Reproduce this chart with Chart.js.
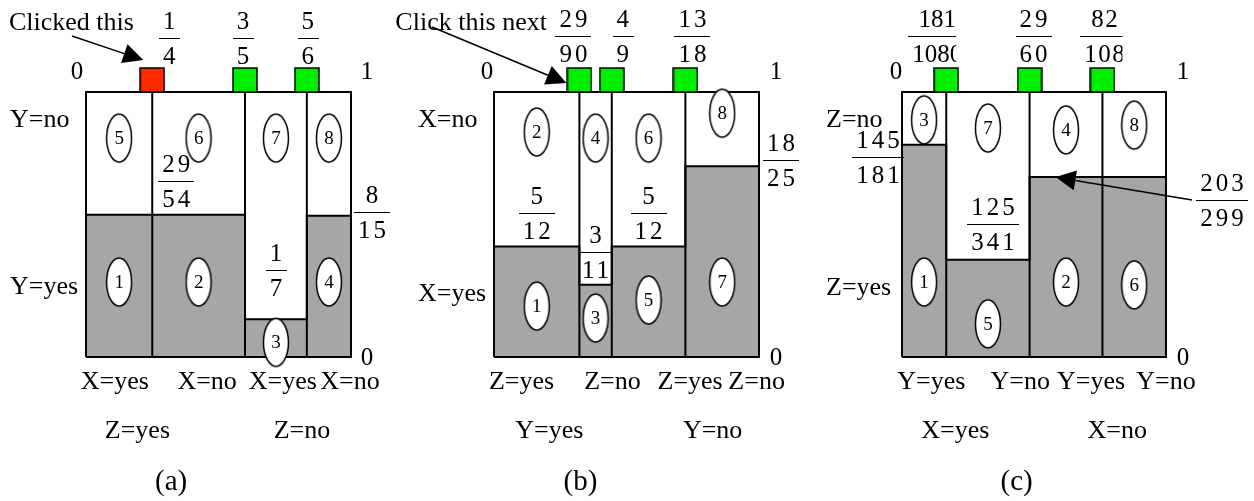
<!DOCTYPE html>
<html>
<head>
<meta charset="utf-8">
<title>Cell probability diagrams</title>
<script src="https://cdn.jsdelivr.net/npm/chart.js@4.4.0/dist/chart.umd.min.js"></script>
<style>
  html, body { margin: 0; padding: 0; background: #fff; }
  #wrap { position: relative; width: 1254px; height: 501px; overflow: hidden; }
  #wrap canvas { position: absolute; top: 0; }
</style>
</head>
<body>
<div id="wrap">
  <canvas id="panelA" width="420" height="501" style="left:0px"></canvas>
  <canvas id="panelB" width="440" height="501" style="left:370px"></canvas>
  <canvas id="panelC" width="454" height="501" style="left:800px"></canvas>
</div>
<script>
// Panel (a): split positions along the top and the grey (yes) share per column
const cutNumA = [1, 3, 5];
const cutDenA = [4, 5, 6];
const topNumA = [29, 29, 1, 8];
const topDenA = [54, 54, 7, 15];
const upperCellsA = [5, 6, 7, 8];
const lowerCellsA = [1, 2, 3, 4];
const colNamesA = ['X=yes', 'X=no', 'X=yes', 'X=no'];
const groupNamesA = ['Z=yes', 'Z=no'];
const rowNamesA = ['Y=no', 'Y=yes'];

// Panel (b)
const cutNumB = [29, 4, 13];
const cutDenB = [90, 9, 18];
const topNumB = [5, 3, 5, 18];
const topDenB = [12, 11, 12, 25];
const upperCellsB = [2, 4, 6, 8];
const lowerCellsB = [1, 3, 5, 7];
const colNamesB = ['Z=yes', 'Z=no', 'Z=yes', 'Z=no'];
const groupNamesB = ['Y=yes', 'Y=no'];
const rowNamesB = ['X=no', 'X=yes'];

// Panel (c)
const cutNumC = [181, 29, 82];
const cutDenC = [1080, 60, 108];
const topNumC = [145, 125, 203, 203];
const topDenC = [181, 341, 299, 299];
const upperCellsC = [3, 7, 4, 8];
const lowerCellsC = [1, 5, 2, 6];
const colNamesC = ['Y=yes', 'Y=no', 'Y=yes', 'Y=no'];
const groupNamesC = ['X=yes', 'X=no'];
const rowNamesC = ['Z=no', 'Z=yes'];

const SERIF = '"Liberation Serif", "Times New Roman", serif';
const GREY = '#a6a6a6';

// point images: marker square sits above its point, oval is centred on it
function squareImg(color) {
  const c = document.createElement('canvas');
  c.width = 26; c.height = 50;
  const g = c.getContext('2d');
  g.fillStyle = color;
  g.fillRect(1, 1, 24, 24);
  g.strokeStyle = '#000';
  g.lineWidth = 1.5;
  g.strokeRect(1, 1, 24, 24);
  return c;
}
function ovalImg() {
  const c = document.createElement('canvas');
  c.width = 28; c.height = 52;
  const g = c.getContext('2d');
  g.beginPath();
  g.ellipse(14, 26, 12.5, 24, 0, 0, Math.PI * 2);
  g.fillStyle = '#fff';
  g.fill();
  g.lineWidth = 1.5;
  g.strokeStyle = '#000';
  g.stroke();
  return c;
}
const RED_SQ = squareImg('#ff2a00');
const GREEN_SQ = squareImg('#00ee00');
const OVAL = ovalImg();

function word(ctx, s, x, y, align, size) {
  ctx.font = (size || 26) + 'px ' + SERIF;
  ctx.textAlign = align;
  ctx.textBaseline = 'alphabetic';
  ctx.fillText(s, x, y);
}

// stacked fraction centred on cx with its bar at lineY; clipW cuts the text off on the right
function fraction(ctx, num, den, cx, lineY, spacing, clipW) {
  const sp = spacing == null ? 3 : spacing;
  ctx.save();
  if (clipW) {
    ctx.beginPath();
    ctx.rect(cx - 200, lineY - 40, 200 + clipW, 80);
    ctx.clip();
  }
  ctx.font = '25px ' + SERIF;
  ctx.letterSpacing = sp + 'px';
  ctx.textAlign = 'left';
  ctx.textBaseline = 'alphabetic';
  const n = String(num), m = String(den);
  const wn = ctx.measureText(n).width - sp;
  const wm = ctx.measureText(m).width - sp;
  ctx.fillText(n, cx - wn / 2, lineY - 9);
  ctx.fillText(m, cx - wm / 2, lineY + 26);
  ctx.letterSpacing = '0px';
  const w = Math.max(wn, wm) + 8;
  ctx.fillRect(Math.round(cx - w / 2), Math.round(lineY), Math.round(w), 1);
  ctx.restore();
}

function arrow(ctx, x0, y0, x1, y1) {
  const a = Math.atan2(y1 - y0, x1 - x0);
  const bx = x1 - 20 * Math.cos(a), by = y1 - 20 * Math.sin(a);
  ctx.lineWidth = 1.5;
  ctx.beginPath();
  ctx.moveTo(x0, y0);
  ctx.lineTo(bx, by);
  ctx.stroke();
  ctx.beginPath();
  ctx.moveTo(x1, y1);
  ctx.lineTo(bx + 10 * Math.sin(a), by - 10 * Math.cos(a));
  ctx.lineTo(bx - 10 * Math.sin(a), by + 10 * Math.cos(a));
  ctx.closePath();
  ctx.fill();
}

function buildPanel(id, d, lay) {
  const cuts = d.cutNum.map((n, i) => n / d.cutDen[i]);
  const edges = [0].concat(cuts, [1]);
  const tops = d.topNum.map((n, i) => n / d.topDen[i]);
  const mids = tops.map((t, i) => (edges[i] + edges[i + 1]) / 2);
  const tags = d.upperCells.concat(d.lowerCells);

  // grey area as a stepped line filled down to zero
  const steps = tops.map((t, i) => ({ x: edges[i], y: t }));
  steps.push({ x: 1, y: tops[tops.length - 1] });

  const line = { showLine: true, pointRadius: 0, borderColor: '#000', borderWidth: 2, clip: false, fill: false, borderJoinStyle: 'miter' };

  const datasets = [
    {
      data: mids.map((m, i) => ({ x: m, y: lay.upperY[i] })).concat(mids.map((m, i) => ({ x: m, y: lay.lowerY[i] }))),
      pointStyle: OVAL, pointRadius: 6, showLine: false, clip: false
    },
    {
      data: cuts.map(c => ({ x: c, y: 1 })),
      pointStyle: ctx => (ctx.dataIndex === lay.clicked ? RED_SQ : GREEN_SQ),
      pointRadius: 6, showLine: false, clip: false
    },
    Object.assign({}, line, { data: [{ x: 0, y: 0 }, { x: 0, y: 1 }, { x: 1, y: 1 }, { x: 1, y: 0 }, { x: 0, y: 0 }] })
  ].concat(
    cuts.map(c => Object.assign({}, line, { data: [{ x: c, y: 0 }, { x: c, y: 1 }] })),
    [Object.assign({}, line, { data: steps, stepped: true, fill: 'origin', backgroundColor: GREY })]
  );

  new Chart(document.getElementById(id), {
    type: 'scatter',
    data: { datasets },
    options: {
      responsive: false,
      animation: false,
      events: [],
      layout: { padding: { left: lay.padL, right: lay.padR, top: 92, bottom: 144 } },
      scales: {
        x: { type: 'linear', min: 0, max: 1, display: false },
        y: { type: 'linear', min: 0, max: 1, display: false }
      },
      plugins: { legend: { display: false }, tooltip: { enabled: false } }
    },
    plugins: [{
      id: 'panelText',
      afterDatasetsDraw(chart) {
        const ctx = chart.ctx;
        ctx.save();
        ctx.fillStyle = '#000';
        ctx.font = '19px ' + SERIF;
        ctx.textAlign = 'center';
        ctx.textBaseline = 'middle';
        chart.getDatasetMeta(0).data.forEach((pt, j) => ctx.fillText(String(tags[j]), pt.x, pt.y + 1));
        ctx.restore();
      },
      afterDraw(chart) {
        const ctx = chart.ctx, ca = chart.chartArea;
        const xs = chart.scales.x, ys = chart.scales.y;
        ctx.save();
        ctx.fillStyle = '#000';
        ctx.strokeStyle = '#000';

        // ends of the split axis
        word(ctx, '0', ca.left + lay.zeroDx, ca.top - 13, 'center', 25);
        word(ctx, '1', ca.right + lay.oneDx, ca.top - 13, 'center', 25);
        word(ctx, '0', ca.right + lay.oneDx, ca.bottom + 8, 'center', 25);

        // split fractions above the markers
        cuts.forEach((c, i) => fraction(ctx, d.cutNum[i], d.cutDen[i],
          xs.getPixelForValue(c) + lay.cutDx[i], lay.cutLineY,
          lay.cutSpacing ? lay.cutSpacing[i] : 3, lay.cutClip ? lay.cutClip[i] : 0));

        // grey share fractions
        lay.topLabels.forEach(t => {
          const yTop = ys.getPixelForValue(tops[t.i]);
          let cx;
          if (t.at === 'center') cx = xs.getPixelForValue(mids[t.i]) + t.dx;
          else if (t.at === 'edge') cx = xs.getPixelForValue(edges[t.i]) + t.dx;
          else if (t.at === 'right') cx = ca.right + t.dx;
          else cx = ca.left + t.dx;
          fraction(ctx, d.topNum[t.i], d.topDen[t.i], cx, yTop + t.dy);
          if (t.arrow) arrow(ctx, cx - 30, yTop + t.dy, xs.getPixelForValue(edges[t.i]) + 26, yTop);
        });

        // row, column and group names
        word(ctx, d.rowNames[0], ca.left - 76, lay.rowY[0], 'left');
        word(ctx, d.rowNames[1], ca.left - 76, lay.rowY[1], 'left');
        d.colNames.forEach((s, i) => word(ctx, s, xs.getPixelForValue(lay.colX[i]), 389, 'center'));
        d.groupNames.forEach((s, i) => word(ctx, s, xs.getPixelForValue(lay.groupX[i]), 438, 'center'));
        word(ctx, lay.caption, xs.getPixelForValue(lay.captionX), 490, 'center', 29);

        // pointer note
        if (lay.note) {
          const n = lay.note;
          word(ctx, n.text, ca.left + n.x, 30, n.align);
          const mx = xs.getPixelForValue(cuts[n.target]);
          arrow(ctx, ca.left + n.tail[0], n.tail[1], mx + n.tipDx, n.tipY);
        }
        ctx.restore();
      }
    }]
  });
}

buildPanel('panelA', {
  cutNum: cutNumA, cutDen: cutDenA, topNum: topNumA, topDen: topDenA,
  upperCells: upperCellsA, lowerCells: lowerCellsA,
  colNames: colNamesA, groupNames: groupNamesA, rowNames: rowNamesA
}, {
  padL: 86, padR: 69, clicked: 0, caption: '(a)',
  zeroDx: -9, oneDx: 16, cutDx: [17, -2, 1], cutLineY: 38,
  upperY: [0.826, 0.826, 0.826, 0.826], lowerY: [0.283, 0.283, 0.055, 0.283],
  topLabels: [
    { i: 1, at: 'edge', dx: 24, dy: -34 },
    { i: 2, at: 'center', dx: 0, dy: -49 },
    { i: 3, at: 'right', dx: 21, dy: -4 }
  ],
  rowY: [127, 294],
  colX: [0.109, 0.457, 0.743, 0.996], groupX: [0.194, 0.815], captionX: 0.321,
  note: { text: 'Clicked this', x: -77, align: 'left', tail: [-14, 36], target: 0, tipDx: -9, tipY: 60 }
});

buildPanel('panelB', {
  cutNum: cutNumB, cutDen: cutDenB, topNum: topNumB, topDen: topDenB,
  upperCells: upperCellsB, lowerCells: lowerCellsB,
  colNames: colNamesB, groupNames: groupNamesB, rowNames: rowNamesB
}, {
  padL: 124, padR: 51, clicked: -1, caption: '(b)',
  zeroDx: -7, oneDx: 17, cutDx: [-6, 11, 7], cutLineY: 36,
  upperY: [0.849, 0.826, 0.826, 0.92], lowerY: [0.192, 0.147, 0.215, 0.283],
  topLabels: [
    { i: 0, at: 'center', dx: 0, dy: -34 },
    { i: 1, at: 'center', dx: 0, dy: -33 },
    { i: 2, at: 'center', dx: 0, dy: -34 },
    { i: 3, at: 'right', dx: 22, dy: -6 }
  ],
  rowY: [127, 301],
  colX: [0.104, 0.447, 0.740, 0.991], groupX: [0.209, 0.825], captionX: 0.326,
  note: { text: 'Click this next', x: 53, align: 'right', tail: [-62, 27], target: 0, tipDx: -13, tipY: 83 }
});

buildPanel('panelC', {
  cutNum: cutNumC, cutDen: cutDenC, topNum: topNumC, topDen: topDenC,
  upperCells: upperCellsC, lowerCells: lowerCellsC,
  colNames: colNamesC, groupNames: groupNamesC, rowNames: rowNamesC
}, {
  padL: 102, padR: 88, clicked: -1, caption: '(c)',
  zeroDx: -6, oneDx: 17, cutDx: [-9, 4, 2], cutLineY: 36,
  cutSpacing: [0, 3, 1.5], cutClip: [19, 0, 18],
  upperY: [0.895, 0.864, 0.857, 0.875], lowerY: [0.283, 0.125, 0.283, 0.272],
  topLabels: [
    { i: 0, at: 'left', dx: -24, dy: 12 },
    { i: 1, at: 'center', dx: 5, dy: -36 },
    { i: 2, at: 'right', dx: 56, dy: 23, arrow: true }
  ],
  rowY: [127, 295],
  colX: [0.111, 0.448, 0.716, 1.0], groupX: [0.202, 0.815], captionX: 0.434,
  note: null
});
</script>
</body>
</html>
